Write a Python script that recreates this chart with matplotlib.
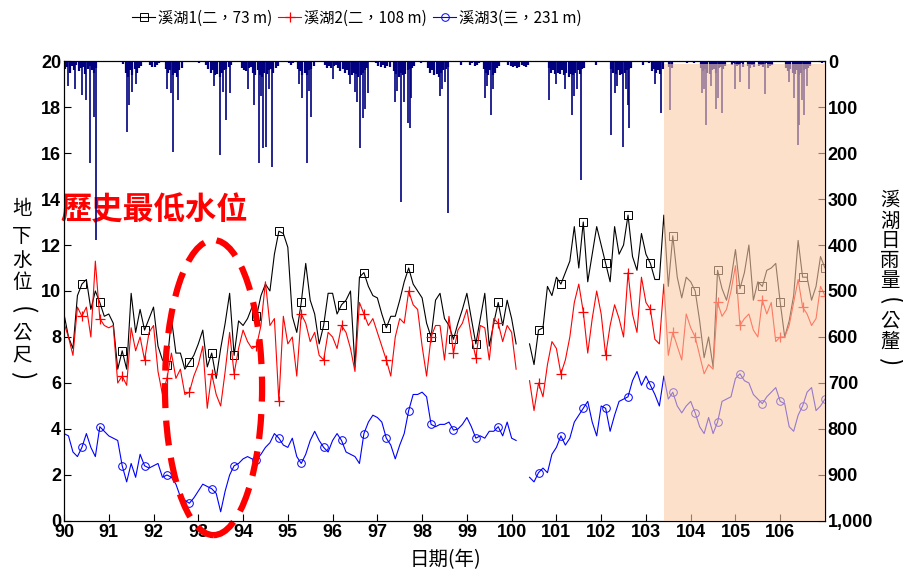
import numpy as np
import matplotlib
matplotlib.use('Agg')
import matplotlib.pyplot as plt
from matplotlib.patches import Ellipse
from matplotlib.ticker import FuncFormatter

plt.rcParams['font.family'] = ['Liberation Sans', 'Noto Sans CJK TC', 'DejaVu Sans']
plt.rcParams['font.weight'] = 'bold'
cjk = ['Noto Sans CJK TC', 'DejaVu Sans']

nan = np.nan
# groundwater level (m), one reading every 0.1 year from 90.0 to 107.0
well1 = [9.0, 8.0, 7.5, 9.8, 10.3, 10.5, 9.2, 10.0, 9.5, 8.9,
         9.0, 8.6, 6.6, 7.4, 6.6, 9.9, 8.2, 9.2, 8.3, 8.8,
         9.3, 7.6, 7.0, 6.8, 8.8, 7.3, 7.3, 6.6, 6.9, 7.2,
         7.7, 8.3, 6.7, 7.3, 6.2, 7.5, 8.6, 9.9, 7.2, 8.7,
         8.5, 8.8, 9.3, 8.9, 9.8, 10.3, 10.0, 11.6, 12.6, 12.5,
         11.9, 8.9, 8.2, 9.5, 11.2, 9.6, 9.0, 7.7, 8.5, 9.9,
         9.9, 9.0, 9.4, 9.6, 10.0, 6.7, 10.6, 10.8, 10.2, 9.8,
         9.7, 9.0, 8.4, 8.9, 8.9, 9.6, 10.4, 11.0, 10.3, 10.0,
         9.7, 8.6, 8.0, 9.6, 9.9, 8.8, 8.5, 7.9, 8.6, 9.2,
         9.9, 8.8, 7.7, 8.8, 9.9, 7.6, 8.6, 9.5, 8.5, 9.6,
         8.8, 7.7, nan, nan, 7.7, 6.8, 8.3, 8.4, 10.2, 9.8,
         10.6, 10.3, 10.8, 11.3, 12.8, 11.0, 13.0, 10.4, 11.6, 12.8,
         12.0, 11.2, 10.4, 12.8, 11.6, 12.0, 13.3, 11.5, 10.9, 12.5,
         11.6, 11.2, 10.5, 10.5, 13.3, 10.2, 12.4, 10.6, 9.7, 10.6,
         10.4, 10.0, 8.7, 7.1, 8.0, 6.7, 10.9, 10.1, 9.6, 10.5,
         11.8, 10.1, 10.8, 12.0, 9.6, 10.4, 10.2, 10.9, 11.0, 11.2,
         9.5, 8.0, 8.7, 9.8, 12.2, 10.6, 10.6, 9.6, 10.2, 11.5,
         11.0]
well2 = [8.6, 8.0, 7.2, 9.3, 8.9, 9.3, 8.0, 11.3, 8.8, 8.5,
         8.4, 8.5, 6.0, 6.3, 5.9, 8.4, 7.4, 8.0, 7.0, 8.2,
         8.5, 6.5, 5.5, 6.2, 7.3, 6.2, 6.6, 5.5, 5.6, 6.3,
         6.8, 7.6, 4.9, 6.4, 5.5, 5.0, 6.5, 8.2, 6.4, 7.5,
         8.3, 7.8, 7.5, 7.6, 8.5, 10.4, 8.5, 8.8, 5.2, 8.9,
         7.7, 8.0, 6.3, 9.0, 8.6, 7.8, 8.2, 7.2, 7.0, 8.2,
         8.0, 7.5, 8.5, 8.2, 7.5, 6.5, 9.5, 9.0, 8.5, 8.8,
         8.2, 7.6, 7.0, 6.3, 8.0, 8.8, 8.6, 10.0, 9.4, 9.2,
         7.6, 6.3, 8.0, 8.5, 8.5, 7.0, 8.9, 7.3, 8.3, 8.6,
         9.2, 8.0, 7.1, 8.5, 8.4, 7.0, 8.8, 8.6, 7.8, 8.5,
         8.2, 6.6, nan, nan, 6.1, 4.8, 6.0, 5.4, 6.8, 7.8,
         7.5, 6.4, 7.0, 8.0, 9.5, 10.3, 9.1, 7.3, 8.8, 10.0,
         9.0, 7.2, 8.5, 9.4, 8.8, 8.0, 10.8, 9.0, 8.2, 10.6,
         9.5, 9.2, 7.9, 7.7, 10.3, 7.2, 8.2, 7.6, 7.0, 9.0,
         8.4, 8.0, 7.2, 6.4, 6.8, 6.6, 9.5, 8.9, 9.2, 10.0,
         11.1, 8.5, 8.8, 9.0, 8.3, 8.0, 9.6, 9.0, 9.5, 7.8,
         8.0, 8.0, 8.5, 9.5, 10.5, 9.3, 9.0, 8.5, 8.8, 10.2,
         9.8]
well3 = [3.8, 3.7, 3.0, 2.8, 3.2, 3.8, 3.2, 2.8, 4.1, 3.9,
         3.7, 3.6, 3.5, 2.4, 1.7, 2.5, 1.9, 2.9, 2.4, 2.3,
         2.4, 2.5, 1.9, 2.0, 1.9, 1.6, 1.05, 0.9, 0.77, 1.0,
         1.3, 1.6, 1.5, 1.4, 1.2, 0.4, 1.3, 2.0, 2.4, 2.5,
         2.7, 2.8, 2.7, 2.65, 2.9, 3.2, 3.4, 3.8, 3.6, 3.3,
         3.2, 3.6, 2.8, 2.5, 2.9, 3.5, 3.9, 3.5, 3.2, 3.0,
         3.5, 3.8, 3.5, 3.0, 2.9, 2.8, 2.5, 3.8, 4.3, 4.6,
         4.5, 4.3, 3.6, 3.3, 2.7, 3.3, 3.8, 4.8, 5.5, 5.5,
         5.6, 5.4, 4.2, 4.1, 4.2, 4.2, 4.3, 3.95, 4.0, 4.2,
         4.5, 4.1, 3.6, 3.7, 3.6, 3.9, 3.9, 4.1, 3.7, 4.3,
         3.6, 3.5, nan, nan, 1.9, 1.7, 2.1, 2.3, 2.1, 2.9,
         3.2, 3.7, 3.3, 3.6, 4.3, 4.6, 4.9, 5.2, 4.3, 3.7,
         5.0, 4.9, 3.9, 4.6, 5.2, 5.3, 5.4, 6.1, 6.5, 5.9,
         6.3, 5.9, 5.5, 5.0, 6.3, 5.3, 5.6, 5.0, 4.7, 5.0,
         5.2, 4.7, 4.1, 3.8, 4.5, 3.8, 4.3, 5.2, 5.3, 5.4,
         6.2, 6.4, 6.1, 6.0, 5.5, 5.3, 5.1, 5.4, 5.6, 5.8,
         5.2, 5.1, 4.1, 3.9, 4.6, 5.0, 5.6, 5.8, 4.8, 5.0,
         5.3]
labels = ['溪湖1(二，73 m)', '溪湖2(二，108 m)', '溪湖3(三，231 m)']

# daily rain (mm): background level every 0.05 year, then the bigger storms
rain_base = [18, 12, 25, 10, 20, 8, 22, 15, 12, 28, 18, 10, 20, 25, 15, 0, 0, 3, 0, 0,
             3, 0, 0, 0, 0, 0, 6, 25, 35, 20, 30, 18, 25, 15, 10, 0, 0, 0, 8, 12,
             12, 8, 5, 0, 0, 18, 25, 20, 30, 25, 35, 20, 15, 0, 0, 0, 0, 0, 0, 0,
             5, 3, 0, 8, 18, 25, 20, 30, 28, 35, 25, 20, 18, 12, 8, 0, 0, 0, 0, 15,
             20, 22, 15, 12, 25, 30, 20, 30, 35, 25, 28, 20, 18, 25, 15, 10, 0, 0, 0, 3,
             5, 8, 5, 0, 18, 22, 30, 25, 30, 20, 18, 10, 0, 0, 0, 0, 8, 15, 10, 15,
             10, 8, 15, 22, 18, 25, 20, 30, 30, 25, 28, 35, 30, 25, 20, 15, 0, 0, 0, 5,
             10, 12, 8, 15, 10, 12, 0, 22, 28, 35, 25, 30, 28, 20, 18, 15, 10, 0, 0, 5,
             0, 3, 15, 25, 20, 30, 28, 35, 25, 20, 18, 12, 0, 0, 0, 0, 0, 8, 0, 0,
             0, 8, 5, 10, 8, 5, 0, 18, 25, 30, 20, 30, 25, 15, 10, 0, 0, 0, 8, 10,
             12, 10, 15, 12, 8, 10, 12, 8, 0, 0, 0, 0, 0, 0, 0, 0, 15, 25, 20, 28,
             25, 28, 20, 30, 25, 35, 28, 30, 25, 20, 28, 18, 15, 0, 0, 0, 0, 8, 0, 0,
             0, 0, 0, 0, 18, 25, 28, 20, 30, 28, 25, 20, 18, 15, 0, 0, 0, 0, 8, 0,
             0, 5, 22, 18, 25, 20, 28, 18, 0, 0, 12, 15, 0, 0, 0, 0, 0, 0, 5, 0,
             0, 5, 0, 0, 15, 22, 18, 25, 28, 20, 18, 25, 15, 12, 18, 10, 0, 0, 8, 5,
             10, 8, 5, 12, 0, 10, 15, 8, 12, 0, 10, 8, 12, 5, 15, 10, 8, 0, 0, 0,
             0, 0, 15, 22, 18, 25, 28, 20, 30, 25, 20, 18, 15, 10, 0, 0, 0, 0, 5, 0]
storm_t = [90.10, 90.25, 90.40, 90.50, 90.58, 90.67, 90.71, 91.40, 91.45, 91.51,
           91.60, 92.30, 92.40, 92.44, 92.55, 93.35, 93.48, 93.55, 93.63, 93.70,
           94.10, 94.25, 94.35, 94.40, 94.45, 94.52, 94.58, 94.65, 95.25, 95.32,
           95.42, 95.48, 95.51, 96.00, 96.40, 96.51, 96.55, 96.61, 96.68, 96.72,
           96.78, 97.40, 97.45, 97.52, 97.60, 97.69, 97.72, 97.75, 98.39, 98.45,
           98.52, 98.58, 99.40, 99.45, 99.55, 99.58, 100.83, 101.00, 101.20, 101.35,
           101.40, 101.45, 101.55, 102.22, 102.30, 102.35, 102.48, 102.55, 102.60, 102.63,
           103.20, 103.34, 103.53, 104.25, 104.30, 104.35, 104.45, 104.57, 104.62, 104.70,
           105.00, 105.10, 105.30, 105.65, 106.20, 106.30, 106.39, 106.43, 106.48, 106.54,
           106.60]
storm_mm = [55, 60, 74, 85, 222, 122, 389, 154, 95, 67,
            50, 60, 70, 197, 85, 55, 204, 68, 128, 70,
            60, 95, 222, 75, 190, 186, 60, 230, 50, 80,
            222, 65, 121, 40, 50, 67, 90, 190, 124, 105,
            70, 90, 65, 306, 90, 135, 145, 80, 75, 60,
            45, 330, 80, 55, 117, 60, 85, 50, 60, 117,
            75, 60, 259, 161, 70, 55, 186, 60, 95, 146,
            50, 114, 107, 70, 60, 139, 55, 104, 80, 114,
            60, 45, 60, 72, 45, 80, 183, 140, 85, 117,
            55]

t = 90 + 0.1 * np.arange(len(well1))
rain_t = 90.025 + 0.05 * np.arange(len(rain_base))
marks = [int(round(3.6 + 4.9 * k)) for k in range(35)]

fig = plt.figure(figsize=(9.04, 5.73), dpi=100)
ax = fig.add_axes([0.0708, 0.0908, 0.8418, 0.8027])
ax2 = ax.twinx()

l1, = ax.plot(t, well1, color='black', lw=0.8, marker='s', ms=5.5, mfc='none', mew=0.7, markevery=marks)
l2, = ax.plot(t, well2, color='red', lw=0.8, marker='+', ms=6.5, mew=0.9, markevery=marks)
l3, = ax.plot(t, well3, color='blue', lw=0.8, marker='o', ms=5.5, mfc='none', mew=0.7, markevery=marks)

ax2.vlines(rain_t, 0, rain_base, color='#000080', lw=1.6)
ax2.vlines(storm_t, 0, storm_mm, color='#000080', lw=1.2)
ax2.axvspan(103.4, 107, ymin=0, ymax=0.993, color='#FBCCA8', alpha=0.6, lw=0, zorder=10)

ax.set_xlim(90, 107)
ax.set_ylim(0, 20)
ax.set_xticks(range(90, 107))
ax.set_yticks(range(0, 21, 2))
ax2.set_ylim(1000, 0)
ax2.set_yticks(range(0, 1001, 100))
ax2.yaxis.set_major_formatter(FuncFormatter(lambda v, p: '{:,}'.format(int(v))))
ax.tick_params(direction='in', length=5, labelsize=13, pad=2)
ax2.tick_params(direction='in', length=5, labelsize=13, pad=2)

ax.add_patch(Ellipse((93.34, 5.8), 2.17, 12.83, fill=False, ec='red', lw=4.5,
                     ls=(0, (4, 2)), clip_on=False, zorder=5))
ax.text(89.93, 13.5, '歷史最低水位', color='red', fontsize=22.5, fontweight='bold',
        family=cjk, va='center', ha='left', clip_on=False)

# stacked vertical axis titles, brackets turned for vertical writing
left_title = '地下水位(公尺)'
left_y = [208, 236, 260, 283, 310, 333, 355, 376]
right_title = '溪湖日雨量(公釐)'
right_y = [200, 221, 241, 261, 281, 301, 321, 341, 362]
for xp, title, ys in [(22, left_title, left_y), (890, right_title, right_y)]:
    for ch, yp in zip(title, ys):
        turned = ch in '()'
        fig.text(xp / 904, 1 - yp / 573, ch, ha='center', va='center',
                 fontsize=18 if turned else 14, family=cjk, weight='normal',
                 rotation=-90 if turned else 0)
fig.text(445 / 904, 1 - 560 / 573, '日期(年)', ha='center', va='center',
         fontsize=14, family=cjk, weight='normal')

fig.legend([l1, l2, l3], labels, loc='center', bbox_to_anchor=(357 / 904, 1 - 18 / 573),
           ncol=3, frameon=False, numpoints=1, handlelength=1.5, handletextpad=0.2,
           columnspacing=0.4, prop={'family': cjk, 'size': 11, 'weight': 'normal'})

fig.savefig('out.png', dpi=100)
